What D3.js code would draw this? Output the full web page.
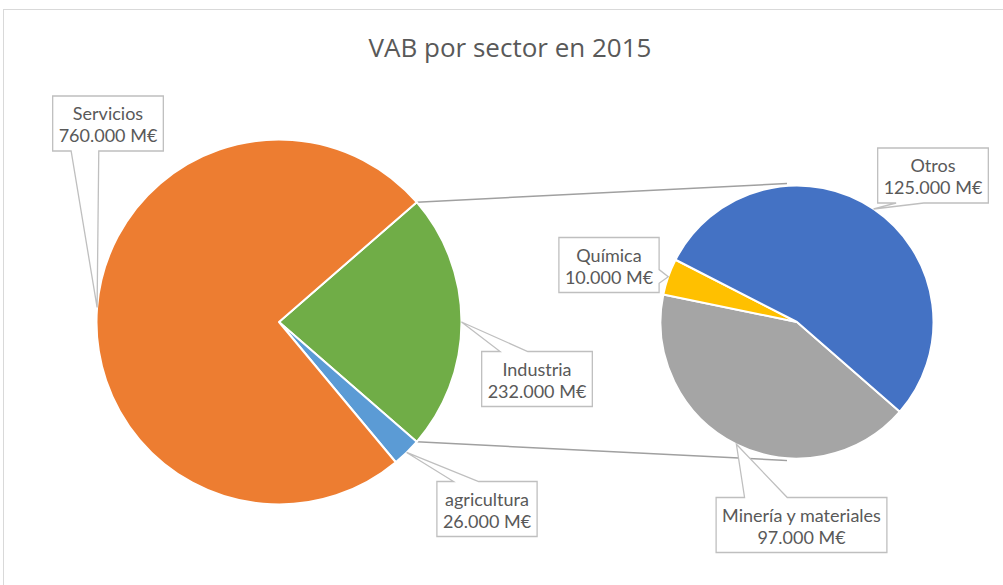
<!DOCTYPE html>
<html>
<head>
<meta charset="utf-8">
<script src="https://cdn.jsdelivr.net/npm/d3@7"></script>
<style>
  body { margin: 0; background: #fff; }
  text { font-family: "Open Sans", sans-serif; fill: #595959; }
  text.lab { font-family: Lato, "Open Sans", sans-serif; }
</style>
</head>
<body>
<script>
// data
let mainCats = ['Industria', 'agricultura', 'Servicios']
let mainVals = [232000, 26000, 760000]
let subCats = ['Minería y materiales', 'Química', 'Otros']
let subVals = [97000, 10000, 125000]

let w = 1003
let h = 585

let mainColors = ['#70AD47', '#5B9BD5', '#ED7D31']
let subColors = ['#A5A5A5', '#FFC000', '#4472C4']

// label box centers (layout)
let mainLabelPos = [[537, 379], [487, 509], [108, 123.5]]
let subLabelPos = [[801.5, 525], [609, 265], [933, 175.5]]

let c1 = [279, 322], r1 = 182.5
let c2 = [797, 322], r2 = 136.5

let loc = d3.formatLocale({ decimal: ',', thousands: '.', grouping: [3], currency: ['', ' M€'] })
let fmt = loc.format(',d')

let svg = d3.select('body').append('svg').attr('width', w).attr('height', h)

svg.append('rect').attr('x', 3.5).attr('y', 9.5).attr('width', w + 10).attr('height', h + 10)
  .attr('fill', '#fff').attr('stroke', '#d9d9d9').attr('stroke-width', 1)

svg.append('text').attr('x', 510).attr('y', 57).attr('text-anchor', 'middle')
  .attr('font-size', 26).text('VAB por sector en 2015')

// main pie: split slice centred on the right
let share = mainVals[0] / d3.sum(mainVals)
let s1 = Math.PI / 2 - Math.PI * share
let pie1 = d3.pie().sort(null).startAngle(s1).endAngle(s1 + 2 * Math.PI)
let pie2 = d3.pie().sort(null).startAngle(131.1 * Math.PI / 180).endAngle(131.1 * Math.PI / 180 + 2 * Math.PI)

let arc1 = d3.arc().innerRadius(0).outerRadius(r1)
let arc2 = d3.arc().innerRadius(0).outerRadius(r2)

let arcs1 = pie1(mainVals)
let arcs2 = pie2(subVals)

// series lines
let pt = (c, r, a) => [c[0] + r * Math.sin(a), c[1] - r * Math.cos(a)]
let pA = pt(c1, r1, arcs1[0].startAngle)
let pB = pt(c1, r1, arcs1[0].endAngle)
let lines = [[pA, [c2[0] - 10, c2[1] - r2 - 2]], [pB, [c2[0] - 10, c2[1] + r2 + 2]]]
svg.selectAll('line.series').data(lines).enter().append('line')
  .attr('class', 'series')
  .attr('x1', d => d[0][0]).attr('y1', d => d[0][1])
  .attr('x2', d => d[1][0]).attr('y2', d => d[1][1])
  .attr('stroke', '#a0a0a0').attr('stroke-width', 1.5)

svg.append('g').attr('transform', 'translate(' + c1 + ')')
  .selectAll('path').data(arcs1).enter().append('path')
  .attr('d', arc1).attr('fill', (d, i) => mainColors[i])
  .attr('stroke', '#fff').attr('stroke-width', 2).attr('stroke-linejoin', 'round')

svg.append('g').attr('transform', 'translate(' + c2 + ')')
  .selectAll('path').data(arcs2).enter().append('path')
  .attr('d', arc2).attr('fill', (d, i) => subColors[i])
  .attr('stroke', '#fff').attr('stroke-width', 2).attr('stroke-linejoin', 'round')

// callout shape like Excel's wedgeRectCallout
function callout(x0, y0, bw, bh, tx, ty) {
  let x1 = x0 + bw, y1 = y0 + bh
  let cx = x0 + bw / 2, cy = y0 + bh / 2
  let dx = tx - cx, dy = ty - cy
  let xb = dx > 0 ? [x0 + bw * 7 / 12, x0 + bw * 10 / 12] : [x0 + bw * 2 / 12, x0 + bw * 5 / 12]
  let yb = dy > 0 ? [y0 + bh * 7 / 12, y0 + bh * 10 / 12] : [y0 + bh * 2 / 12, y0 + bh * 5 / 12]
  let side
  if (Math.abs(dx * bh / bw) > Math.abs(dy)) side = dx > 0 ? 'r' : 'l'
  else side = dy > 0 ? 'b' : 't'
  let p = d3.path()
  p.moveTo(x0, y0)
  if (side == 't') { p.lineTo(xb[0], y0); p.lineTo(tx, ty); p.lineTo(xb[1], y0) }
  p.lineTo(x1, y0)
  if (side == 'r') { p.lineTo(x1, yb[0]); p.lineTo(tx, ty); p.lineTo(x1, yb[1]) }
  p.lineTo(x1, y1)
  if (side == 'b') { p.lineTo(xb[1], y1); p.lineTo(tx, ty); p.lineTo(xb[0], y1) }
  p.lineTo(x0, y1)
  if (side == 'l') { p.lineTo(x0, yb[1]); p.lineTo(tx, ty); p.lineTo(x0, yb[0]) }
  p.closePath()
  return p.toString()
}

function labels(arcs, cats, pos, c, r) {
  arcs.forEach((d, i) => {
    let mid = (d.startAngle + d.endAngle) / 2
    let tip = pt(c, r, mid)
    let g = svg.append('g')
    let path = g.append('path').attr('fill', '#fff').attr('stroke', '#bfbfbf').attr('stroke-width', 1.3)
    let bh = 55
    let x = pos[i][0], y0 = pos[i][1] - bh / 2
    let t1 = g.append('text').attr('class', 'lab').attr('text-anchor', 'middle').attr('font-size', 18)
      .attr('x', x).attr('y', y0 + 24).text(cats[i])
    let t2 = g.append('text').attr('class', 'lab').attr('text-anchor', 'middle').attr('font-size', 18)
      .attr('x', x).attr('y', y0 + 46).text(fmt(d.data) + ' M€')
    let tw = Math.max(t1.node().getComputedTextLength(), t2.node().getComputedTextLength())
    let bw = tw + 12
    path.attr('d', callout(x - bw / 2, y0, bw, bh, tip[0], tip[1]))
  })
}
labels(arcs1, mainCats, mainLabelPos, c1, r1)
labels(arcs2, subCats, subLabelPos, c2, r2)
</script>
</body>
</html>
